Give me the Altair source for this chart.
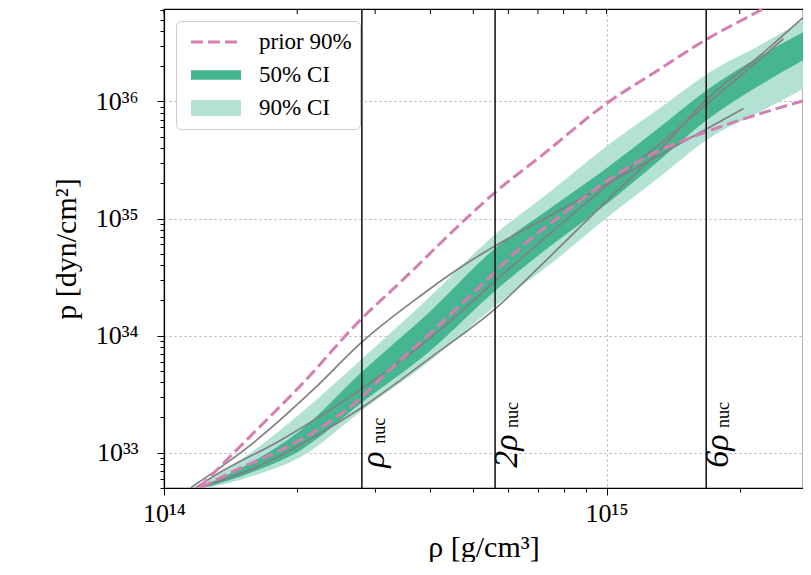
import altair as alt
import pandas as pd

FONT = "Liberation Serif"

# ---------------- values ----------------
series_names = ["prior 90%", "50% CI", "90% CI"]
series_colors = ["#d47fb2", "#45b592", "#b3e2d4"]

# posterior credible bands  (rho in g/cm^3, p in dyn/cm^2)
band_rho = [1.14e14, 1.57e14, 2.04e14, 2.81e14, 4.01e14, 5.61e14, 7.48e14,
            1.00e15, 1.325e15, 1.69e15, 2.23e15, 2.90e15]
ci90_hi = [4.63e32, 9.94e32, 2.18e33, 6.39e33, 2.19e34, 7.38e34, 1.71e35,
           4.14e35, 8.87e35, 1.73e36, 3.05e36, 5.48e36]
ci50_hi = [4.63e32, 8.17e32, 1.56e33, 4.95e33, 1.63e34, 5.61e34, 1.23e35,
           2.69e35, 6.12e35, 1.26e36, 2.46e36, 4.25e36]
ci50_lo = [4.63e32, 6.72e32, 1.054e33, 2.70e33, 7.47e33, 2.42e34, 5.84e34,
           1.33e35, 3.21e35, 7.02e35, 1.39e36, 2.46e36]
ci90_lo = [4.63e32, 6.21e32, 9.19e32, 2.31e33, 6.14e33, 1.80e34, 4.10e34,
           1.01e35, 2.30e35, 4.74e35, 8.20e35, 1.39e36]

# prior 90% bounds (dashed)
prior_hi_rho = [1.20e14, 1.57e14, 2.04e14, 2.80e14, 3.43e14, 4.75e14, 5.61e14,
                7.10e14, 1.00e15, 1.325e15, 1.69e15, 2.23e15, 2.47e15]
prior_hi_p = [5.0e32, 1.39e33, 3.77e33, 1.40e34, 2.88e34, 9.5e34, 1.68e35,
              3.40e35, 9.6e35, 1.91e36, 3.43e36, 6.04e36, 7.5e36]
prior_lo_rho = [1.21e14, 1.49e14, 1.80e14, 2.18e14, 2.80e14, 3.09e14, 4.01e14,
                5.20e14, 6.50e14, 8.30e14, 1.00e15, 1.24e15, 1.69e15, 2.23e15, 2.90e15]
prior_lo_p = [5.0e32, 7.41e32, 1.01e33, 1.50e33, 2.98e33, 4.31e33, 1.06e34,
              2.67e34, 5.96e34, 1.23e35, 2.08e35, 3.40e35, 5.55e35, 7.89e35, 1.06e36]

# individual equation-of-state draws (grey)
eos_a_rho = [1.15e14, 1.55e14, 2.18e14, 2.81e14, 3.80e14, 4.93e14, 5.61e14,
             7.36e14, 1.00e15, 1.325e15, 1.69e15, 2.04e15]
eos_a_p = [5.01e32, 1.118e33, 3.48e33, 8.91e33, 2.19e34, 4.35e34, 5.84e34,
           1.03e35, 1.96e35, 3.53e35, 5.89e35, 8.70e35]
eos_b_rho = [1.18e14, 1.30e14, 1.84e14, 2.81e14, 4.38e14, 5.61e14, 7.48e14,
             1.00e15, 1.325e15, 1.69e15, 2.06e15, 2.51e15]
eos_b_p = [5.01e32, 6.34e32, 1.282e33, 3.55e33, 1.27e34, 2.94e34, 7.53e34,
           1.89e35, 4.39e35, 9.60e35, 1.80e36, 3.43e36]
eos_c_rho = [1.21e14, 1.68e14, 2.18e14, 2.81e14, 4.01e14, 5.61e14, 7.48e14,
             1.00e15, 1.325e15, 1.69e15, 2.23e15, 2.87e15]
eos_c_p = [5.01e32, 8.01e32, 1.36e33, 2.45e33, 6.51e33, 1.70e34, 4.80e34,
           1.41e35, 3.90e35, 1.06e36, 2.50e36, 5.81e36]

# nuclear saturation density markers
rho_nuc = 2.8e14
nuc_multiples = [1, 2, 6]
nuc_prefix = ["ρ", "2ρ", "6ρ"]
nuc_sub = ["nuc", "nuc", "nuc"]
nuc_text_p = [7.4e32, 7.4e32, 7.4e32]
nuc_sub_p = [1.19e33, 1.62e33, 1.62e33]

# axes
x_domain = [1e14, 2.78e15]
y_domain = [4.98e32, 6.17e36]
x_major = [1e14, 1e15]
x_major_labels = ["10¹⁴", "10¹⁵"]
y_major = [1e33, 1e34, 1e35, 1e36]
y_major_labels = ["10³³", "10³⁴", "10³⁵", "10³⁶"]
x_tick_values = [m * 1e14 for m in range(1, 10)] + [1e15, 2e15]
y_tick_values = ([m * 1e32 for m in range(5, 10)] + [m * 1e33 for m in range(1, 10)]
                 + [m * 1e34 for m in range(1, 10)] + [m * 1e35 for m in range(1, 10)]
                 + [m * 1e36 for m in range(1, 7)])
x_title = "ρ [g/cm³]"
y_title = "p [dyn/cm²]"

# ---------------- tables ----------------
band_df = pd.DataFrame({"rho": band_rho, "lo90": ci90_lo, "hi90": ci90_hi,
                        "lo50": ci50_lo, "hi50": ci50_hi})
prior_df = pd.concat([
    pd.DataFrame({"rho": prior_hi_rho, "p": prior_hi_p, "bound": "upper"}),
    pd.DataFrame({"rho": prior_lo_rho, "p": prior_lo_p, "bound": "lower"}),
])
prior_df["series"] = series_names[0]
eos_df = pd.concat([
    pd.DataFrame({"rho": eos_a_rho, "p": eos_a_p, "eos": "a"}),
    pd.DataFrame({"rho": eos_b_rho, "p": eos_b_p, "eos": "b"}),
    pd.DataFrame({"rho": eos_c_rho, "p": eos_c_p, "eos": "c"}),
])
nuc_df = pd.DataFrame({"rho": [rho_nuc * m for m in nuc_multiples],
                       "prefix": nuc_prefix, "sub": nuc_sub,
                       "p_text": nuc_text_p, "p_sub": nuc_sub_p})
top_ticks_df = pd.DataFrame({"rho": x_tick_values})


def label_expr(values, labels):
    expr = ""
    for v, l in zip(values, labels):
        expr += f"datum.value == {v:.0e} ? '{l}' : "
    return expr + "''"


major_test = "abs(log(datum.value)/LN10 - round(log(datum.value)/LN10)) < 0.001"

common_axis = dict(
    labelFont=FONT, labelColor="black",
    labelFontSize=alt.condition(major_test, alt.value(26), alt.value(0)),
    titleFont=FONT, titleFontSize=30, titleFontWeight="normal", titleColor="black",
    tickColor="black", tickWidth=1,
    tickSize=alt.condition(major_test, alt.value(7), alt.value(4)),
    domainColor="black", domainWidth=1.2,
    gridColor="#b0b0b0", gridDash=[2, 3], gridWidth=1,
    gridOpacity=alt.condition(major_test, alt.value(1), alt.value(0)),
    labelOverlap=False, labelFlush=False,
)

xaxis = alt.Axis(values=x_tick_values, labelExpr=label_expr(x_major, x_major_labels),
                 labelPadding=5, titlePadding=6, **common_axis)
yaxis = alt.Axis(values=y_tick_values, labelExpr=label_expr(y_major, y_major_labels),
                 labelPadding=19, titlePadding=14, **common_axis)

xscale = alt.Scale(type="log", domain=x_domain, nice=False)
yscale = alt.Scale(type="log", domain=y_domain, nice=False)


def X(field="rho"):
    return alt.X(f"{field}:Q", scale=xscale, axis=xaxis, title=x_title)


def Y(field="p"):
    return alt.Y(f"{field}:Q", scale=yscale, axis=yaxis, title=y_title)


legend = alt.Legend(
    title=None, orient="top-left", offset=12,
    symbolType="M-2.5,0H2.5", symbolSize=400, symbolOffset=14,
    labelFont=FONT, labelFontSize=23, labelColor="black", labelOffset=25,
    labelLimit=0, fillColor="white", strokeColor="#cccccc", cornerRadius=5,
    padding=8, rowPadding=7, clipHeight=26,
)

band90 = alt.Chart(band_df).mark_area(
    color=series_colors[2], interpolate="monotone", clip=True
).encode(x=X(), y=Y("lo90"), y2="hi90:Q")

band50 = alt.Chart(band_df).mark_area(
    color=series_colors[1], interpolate="monotone", clip=True
).encode(x=X(), y=Y("lo50"), y2="hi50:Q")

eos_lines = alt.Chart(eos_df).mark_line(
    color="#808080", strokeWidth=1.7, interpolate="monotone", clip=True
).encode(x=X(), y=Y(), detail="eos:N")

prior_lines = alt.Chart(prior_df).mark_line(
    interpolate="monotone", clip=True
).encode(
    x=X(), y=Y(), detail="bound:N",
    color=alt.Color("series:N", scale=alt.Scale(domain=series_names, range=series_colors),
                    legend=legend),
    strokeDash=alt.StrokeDash("series:N",
                              scale=alt.Scale(domain=series_names,
                                              range=[[12, 5], [1, 0], [1, 0]]),
                              legend=legend),
    strokeWidth=alt.StrokeWidth("series:N",
                                scale=alt.Scale(domain=series_names, range=[3, 16, 16]),
                                legend=legend),
)

nuc_rules = alt.Chart(nuc_df).mark_rule(color="#1a1a1a", strokeWidth=1.6).encode(x=X())

top_ticks = alt.Chart(top_ticks_df).mark_rule(color="black", strokeWidth=1).encode(
    x=X(), y=alt.value(0), y2=alt.value(5)
)

nuc_text = alt.Chart(nuc_df).mark_text(
    angle=270, align="left", baseline="alphabetic", dy=22,
    font=FONT, fontSize=34, fontStyle="italic", color="black"
).encode(x=X(), y=Y("p_text"), text="prefix:N")

nuc_subtext = alt.Chart(nuc_df).mark_text(
    angle=270, align="left", baseline="alphabetic", dy=23,
    font=FONT, fontSize=18, color="black"
).encode(x=X(), y=Y("p_sub"), text="sub:N")

chart = alt.layer(
    band90, band50, eos_lines, prior_lines, nuc_rules, top_ticks, nuc_text, nuc_subtext
).properties(
    width=795, height=554,
    autosize=alt.AutoSizeParams(type="fit", contains="padding"),
    padding={"left": 43, "top": 0, "right": 0, "bottom": 0},
    background="white",
).configure_view(stroke="black", strokeWidth=1.2)

chart.save("out.html", embed_options={"renderer": "svg", "actions": False})
